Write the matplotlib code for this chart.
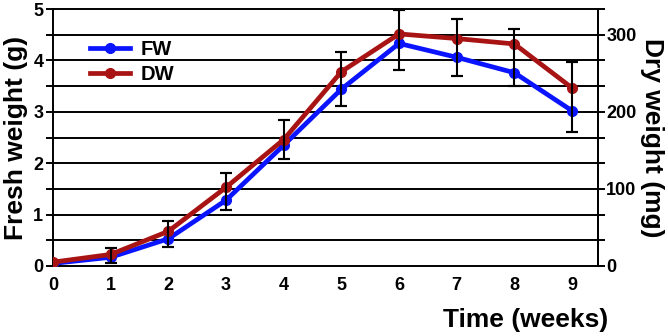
import matplotlib
matplotlib.use("Agg")
import matplotlib.pyplot as plt
import numpy as np

plt.rcParams['font.family'] = ['Liberation Sans', 'DejaVu Sans']
plt.rcParams['font.weight'] = 'bold'

weeks = [0, 1, 2, 3, 4, 5, 6, 7, 8, 9]
fw_g = [0.05, 0.17, 0.53, 1.28, 2.35, 3.44, 4.33, 4.06, 3.76, 3.02]
fw_err_g = [0.0, 0.11, 0.155, 0.20, 0.27, 0.33, 0.52, 0.36, 0.25, 0.41]
dw_mg = [5, 15, 45, 102, 164, 252, 301, 295, 288, 231]
dw_err_mg = [0, 8, 13, 19, 25, 26, 31, 25, 19, 33]

MG_PER_G_AXIS = 100 / 1.5  # right axis: 1 g on left scale == 66.67 mg

def g2mg(y):
    return y * MG_PER_G_AXIS

def mg2g(y):
    return y / MG_PER_G_AXIS

fw = np.array(fw_g)
fwe = np.array(fw_err_g)
dw = mg2g(np.array(dw_mg, dtype=float))
dwe = mg2g(np.array(dw_err_mg, dtype=float))

fig = plt.figure(figsize=(6.68, 3.36), dpi=100)
ax = fig.add_axes([53/668, 70/336, (598-53)/668, (266-9)/336])

ax.set_xlim(0, 9.45)
ax.set_ylim(0, 5)

# grid lines every 0.5 g
for yv in np.arange(0.5, 5.0, 0.5):
    ax.axhline(yv, color='black', lw=1.4, zorder=1)

# error bars spanning from FW-err up to DW+err
lower = fw - fwe
upper = dw + dwe
mask = np.array(weeks) > 0
xw = np.array(weeks)[mask]
ax.vlines(xw, lower[mask], upper[mask], color='black', lw=1.5, zorder=4)
ax.errorbar(xw, lower[mask], yerr=0, fmt='none', ecolor='black', capsize=4, capthick=1.5, zorder=4)
ax.errorbar(xw, upper[mask], yerr=0, fmt='none', ecolor='black', capsize=4, capthick=1.5, zorder=4)

ax.plot(weeks, fw, color='#0a14ff', lw=3.4, marker='o', ms=7, label='FW', zorder=3)
ax.plot(weeks, dw, color='#a81414', lw=3.4, marker='o', ms=7, label='DW', zorder=3)

ax.set_yticks([0, 1, 2, 3, 4, 5])
ax.set_yticks(np.arange(0.5, 5.0, 1.0), minor=True)
ax.tick_params(axis='y', which='both', direction='out', length=5, width=1.4, labelsize=13, pad=2)
ax.set_xticks(weeks)
ax.tick_params(axis='x', length=0, labelsize=13, pad=8)
for s in ax.spines.values():
    s.set_linewidth(1.4)

sec = ax.secondary_yaxis('right', functions=(g2mg, mg2g))
sec.set_yticks([0, 100, 200, 300])
sec.set_yticks([g2mg(v) for v in np.arange(0.5, 5.01, 0.5)], minor=True)
sec.tick_params(axis='y', which='both', direction='out', length=5, width=1.4, labelsize=13, pad=1)
sec.spines['right'].set_linewidth(1.4)
for lab in sec.get_yticklabels():
    lab.set_fontweight('bold')
sec.set_ylabel('Dry weight (mg)', fontsize=19, fontweight='bold', rotation=270, labelpad=20)

for lab in ax.get_xticklabels() + ax.get_yticklabels():
    lab.set_fontweight('bold')

ax.set_ylabel('Fresh weight (g)', fontsize=19, fontweight='bold', labelpad=4)
fig.text(608/668, 1 - 320/336, 'Time (weeks)', fontsize=19, fontweight='bold', ha='right', va='center')

leg = ax.legend(loc='upper left', bbox_to_anchor=(0.068, 0.88), frameon=False,
                fontsize=14.5, handlelength=2.0, handletextpad=0.5, labelspacing=0.32,
                borderaxespad=0, borderpad=0)
for t in leg.get_texts():
    t.set_fontweight('bold')
for h in leg.legend_handles:
    h.set_markersize(7)

fig.savefig('out.png', dpi=100, facecolor='white')
